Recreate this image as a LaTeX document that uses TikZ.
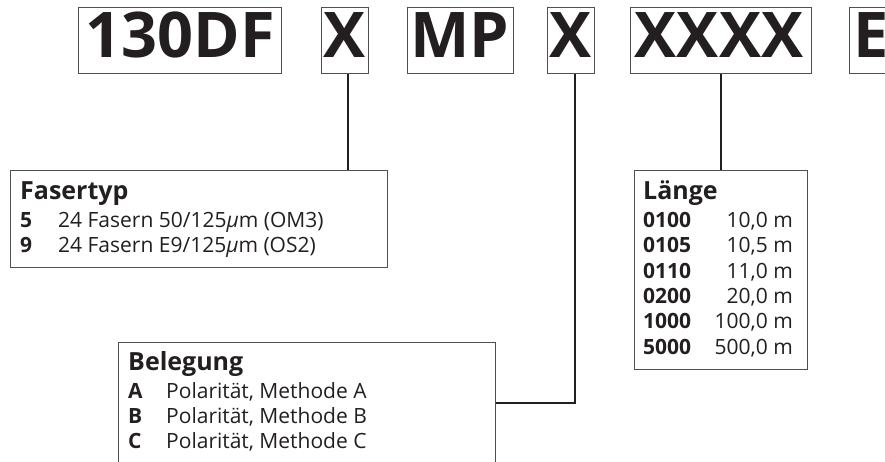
\documentclass[tikz,border=0pt]{standalone}
\usepackage{fontspec}
\setmainfont{Open Sans}
\definecolor{ink}{HTML}{231F20}
\definecolor{frame}{HTML}{505050}
\begin{document}
\begin{tikzpicture}[x=1pt,y=-1pt,
  topbox/.style={draw=frame,line width=1.1pt,minimum height=66pt,inner sep=0pt,anchor=north west},
  toptext/.style={anchor=base,inner sep=0pt,text=ink,font=\fontsize{63}{70}\selectfont\bfseries},
  infobox/.style={draw=frame,line width=1.2pt,inner sep=0pt,anchor=north west,fill=white},
  head/.style={anchor=base west,inner sep=0pt,text=ink,font=\fontsize{25}{30}\selectfont\bfseries},
  code/.style={anchor=base west,inner sep=0pt,text=ink,font=\fontsize{21}{25}\selectfont\bfseries},
  desc/.style={anchor=base west,inner sep=0pt,text=ink,font=\fontsize{21}{25}\selectfont},
  val/.style={anchor=base east,inner sep=0pt,text=ink,font=\fontsize{21}{25}\selectfont},
  conn/.style={draw=ink,line width=1.9pt}]
\clip (0,0) rectangle (885,461);
\fill[white] (0,0) rectangle (885,461);
% top code boxes
\node[topbox,minimum width=203pt] (b1) at (78,7) {};
\node[topbox,minimum width=47pt] (b2) at (321,7) {};
\node[topbox,minimum width=106pt] (b3) at (407,7) {};
\node[topbox,minimum width=47pt] (b4) at (547,7) {};
\node[topbox,minimum width=181pt] (b5) at (630,7) {};
\node[topbox,minimum width=47pt] (b6) at (849,7) {};
\node[toptext] (t1) at (180.5,57) {130DF};
\node[toptext] (t2) at (345,57) {X};
\node[toptext] (t3) at (460,57) {MP};
\node[toptext] (t4) at (571,57) {X};
\node[toptext] (t5) at (719,57) {XXXX};
\node[toptext] (t6) at (871,57) {E};
% info boxes
\node[infobox,minimum width=377pt,minimum height=97pt] (fas) at (10,170) {};
\node[infobox,minimum width=173pt,minimum height=199pt] (len) at (634,170) {};
\node[infobox,minimum width=377pt,minimum height=140pt] (bel) at (118,342) {};
% connectors
\draw[conn] ([xshift=3pt]b2.south) -- ([xshift=3pt]b2.south |- fas.north);
\draw[conn] (b5.south) -- (b5.south |- len.north);
\draw[conn] ([xshift=3.5pt]b4.south) |- ([yshift=-61.3pt]bel.north east);
% Fasertyp
\node[head] (fh) at (20,199.5) {Fasertyp};
\node[code] (f1c) at (20,227.7) {5};
\node[desc] (f1d) at (58,227.7) {24 Fasern 50/125{\itshape µ}m (OM3)};
\node[code] (f2c) at (20,252.7) {9};
\node[desc] (f2d) at (58,252.7) {24 Fasern E9/125{\itshape µ}m (OS2)};
% Laenge
\node[head] (lh) at (643,199) {Länge};
\node[code] (l1c) at (643,227.5) {0100};
\node[val] (l1v) at (793,227.5) {10,0 m};
\node[code] (l2c) at (643,252.8) {0105};
\node[val] (l2v) at (793,252.8) {10,5 m};
\node[code] (l3c) at (643,278.1) {0110};
\node[val] (l3v) at (793,278.1) {11,0 m};
\node[code] (l4c) at (643,303.4) {0200};
\node[val] (l4v) at (793,303.4) {20,0 m};
\node[code] (l5c) at (643,328.7) {1000};
\node[val] (l5v) at (793,328.7) {100,0 m};
\node[code] (l6c) at (643,354) {5000};
\node[val] (l6v) at (793,354) {500,0 m};
% Belegung
\node[head] (bh) at (128,370) {Belegung};
\node[code] (b1c) at (128,398.3) {A};
\node[desc] (b1d) at (166,398.3) {Polarität, Methode A};
\node[code] (b2c) at (128,423.3) {B};
\node[desc] (b2d) at (166,423.3) {Polarität, Methode B};
\node[code] (b3c) at (128,448.3) {C};
\node[desc] (b3d) at (166,448.3) {Polarität, Methode C};
\end{tikzpicture}
\end{document}
